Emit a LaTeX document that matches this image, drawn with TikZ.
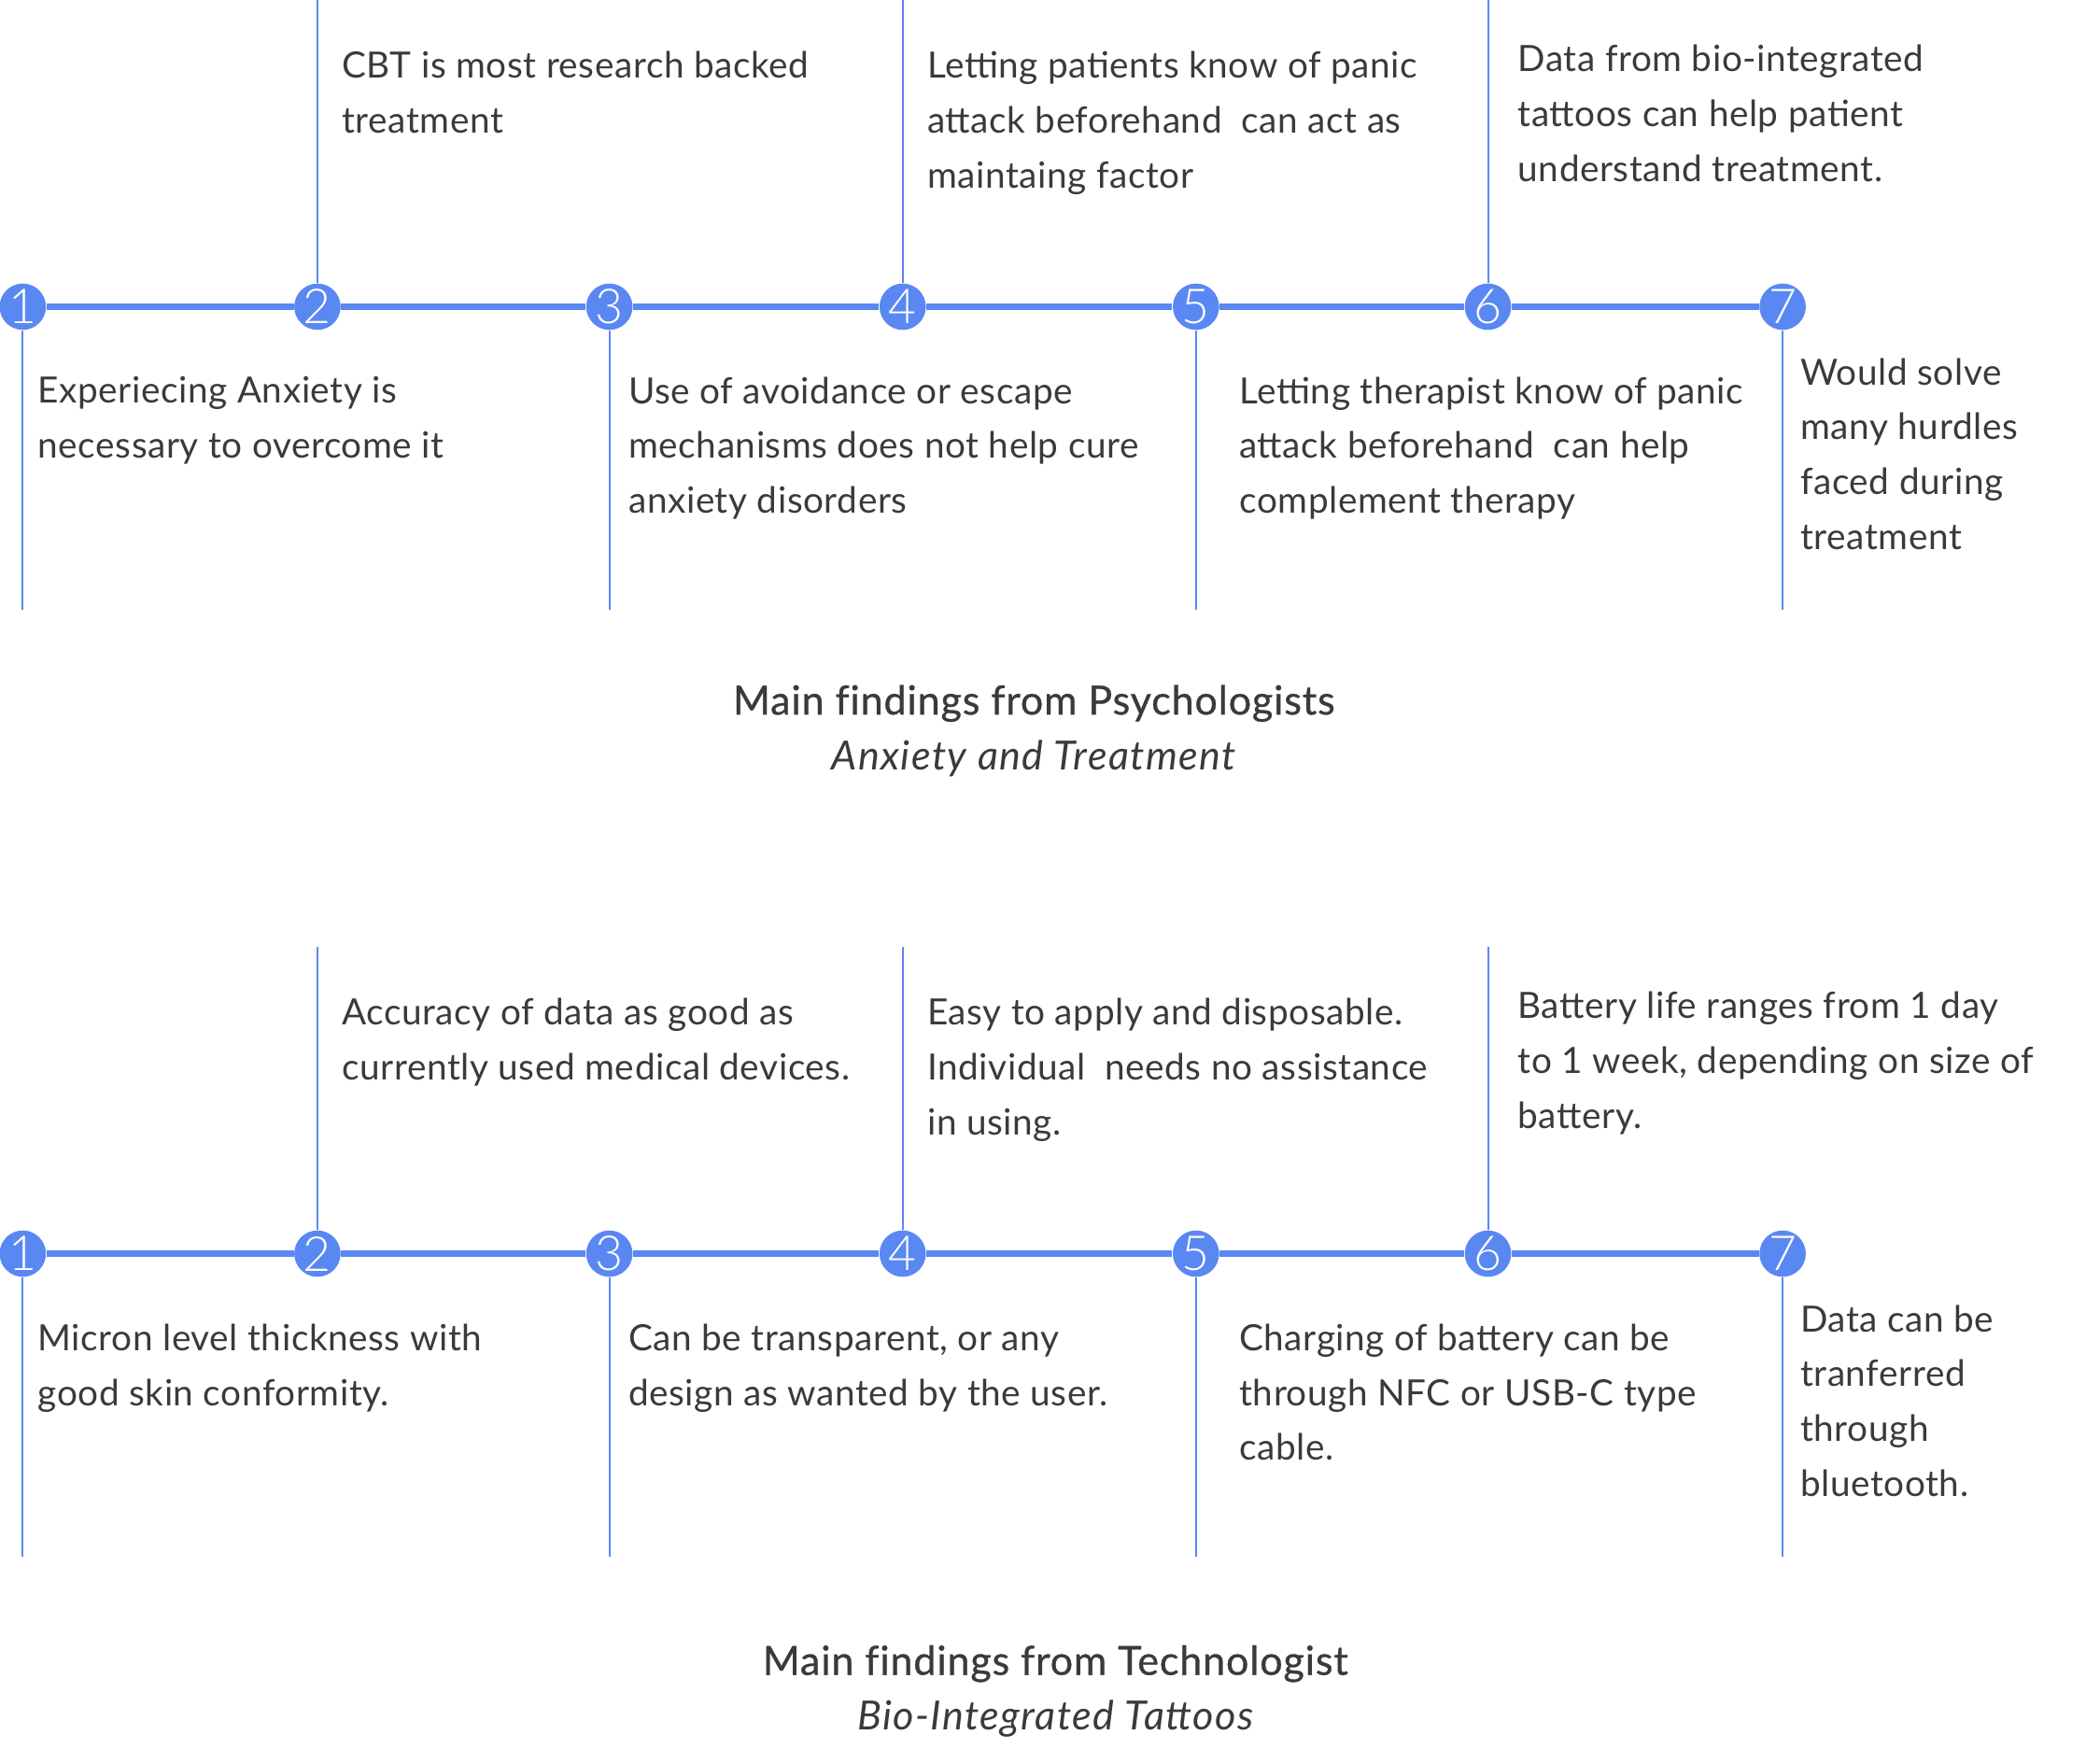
\documentclass[tikz,border=0pt]{standalone}
\usepackage{fontspec}
\setmainfont{Lato}[LetterSpace=1.5]
\newfontfamily\titlefont[FakeBold=0.7,LetterSpace=2,Ligatures=NoCommon]{Lato}
\newfontfamily\subtitlefont[LetterSpace=3.3]{Lato}
\newfontfamily\numfont{Lato Light}
\usepackage{tikz}

\definecolor{lineblue}{HTML}{5A88F2}
\definecolor{textgray}{HTML}{3A3A3A}

\tikzset{
  num/.style={circle,fill=lineblue,inner sep=0pt,minimum size=17.3pt,
    text=white,font=\numfont\fontsize{18}{18}\selectfont},
  mainline/.style={draw=lineblue,line width=2.5pt},
  stem/.style={draw=lineblue,line width=0.7pt},
  note/.style={anchor=north west,inner sep=0pt,align=left,text=textgray,
    font=\fontsize{13.5}{20.5}\selectfont,execute at begin node=\strut},
  heading/.style={anchor=north,inner sep=0pt,align=center,text=textgray,
    font=\fontsize{15}{20.5}\selectfont,execute at begin node=\strut}
}

\begin{document}
\begin{tikzpicture}[x=0.5pt,y=-0.5pt]
  \useasboundingbox (0,0) rectangle (1568,1316);

  % two timelines: psychologists (p) and technologist (t)
  \foreach \row/\y/\top/\bot in {p/229/0/455, t/936/707/1162} {
    \foreach \i/\x in {1/17,2/237,3/455,4/674,5/893,6/1111,7/1331}
      \node[num] (\row\i) at (\x,\y) {\i};
    \foreach \a/\b in {1/2,2/3,3/4,4/5,5/6,6/7}
      \path[mainline] (\row\a) -- (\row\b);
    \foreach \i/\x in {2/237,4/674,6/1111} {
      \coordinate (\row\i-up) at (\x,\top);
      \path[stem] (\row\i) -- (\row\i-up);
    }
    \foreach \i/\x in {1/17,3/455,5/893,7/1331} {
      \coordinate (\row\i-down) at (\x,\bot);
      \path[stem] (\row\i) -- (\row\i-down);
    }
  }

  % notes of the psychologists
  \node[note] (p2-note) at (255,38) {CBT is most research backed\\treatment};
  \node[note] (p4-note) at (692,38) {Letting patients know of panic\\attack beforehand~ can act as\\maintaing factor};
  \node[note] (p6-note) at (1133,33) {Data from bio-integrated\\tattoos can help patient\\understand treatment.};
  \node[note] (p1-note) at (28,281) {Experiecing Anxiety is\\necessary to overcome it};
  \node[note] (p3-note) at (469,281) {Use of avoidance or escape\\mechanisms does not help cure\\anxiety disorders};
  \node[note] (p5-note) at (925,281) {Letting therapist know of panic\\attack beforehand~ can help\\complement therapy};
  \node[note] (p7-note) at (1344,267) {Would solve\\many hurdles\\faced during\\treatment};
  \node[heading] (p-title) at (772,511) {{\titlefont Main findings from Psychologists}\\{\subtitlefont\itshape Anxiety and Treatment}};

  % notes of the technologist
  \node[note] (t2-note) at (255,745) {Accuracy of data as good as\\currently used medical devices.};
  \node[note] (t4-note) at (692,745) {Easy to apply and disposable.\\Individual~ needs no assistance\\in using.};
  \node[note] (t6-note) at (1133,740) {Battery life ranges from 1 day\\to 1 week, depending on size of\\battery.};
  \node[note] (t1-note) at (28,988) {Micron level thickness with\\good skin conformity.};
  \node[note] (t3-note) at (469,988) {Can be transparent, or any\\design as wanted by the user.};
  \node[note] (t5-note) at (925,988) {Charging of battery can be\\through NFC or USB-C type\\cable.};
  \node[note] (t7-note) at (1344,974) {Data can be\\tranferred\\through\\bluetooth.};
  \node[heading] (t-title) at (788,1228) {{\titlefont Main findings from Technologist}\\{\subtitlefont\itshape Bio-Integrated Tattoos}};
\end{tikzpicture}
\end{document}
